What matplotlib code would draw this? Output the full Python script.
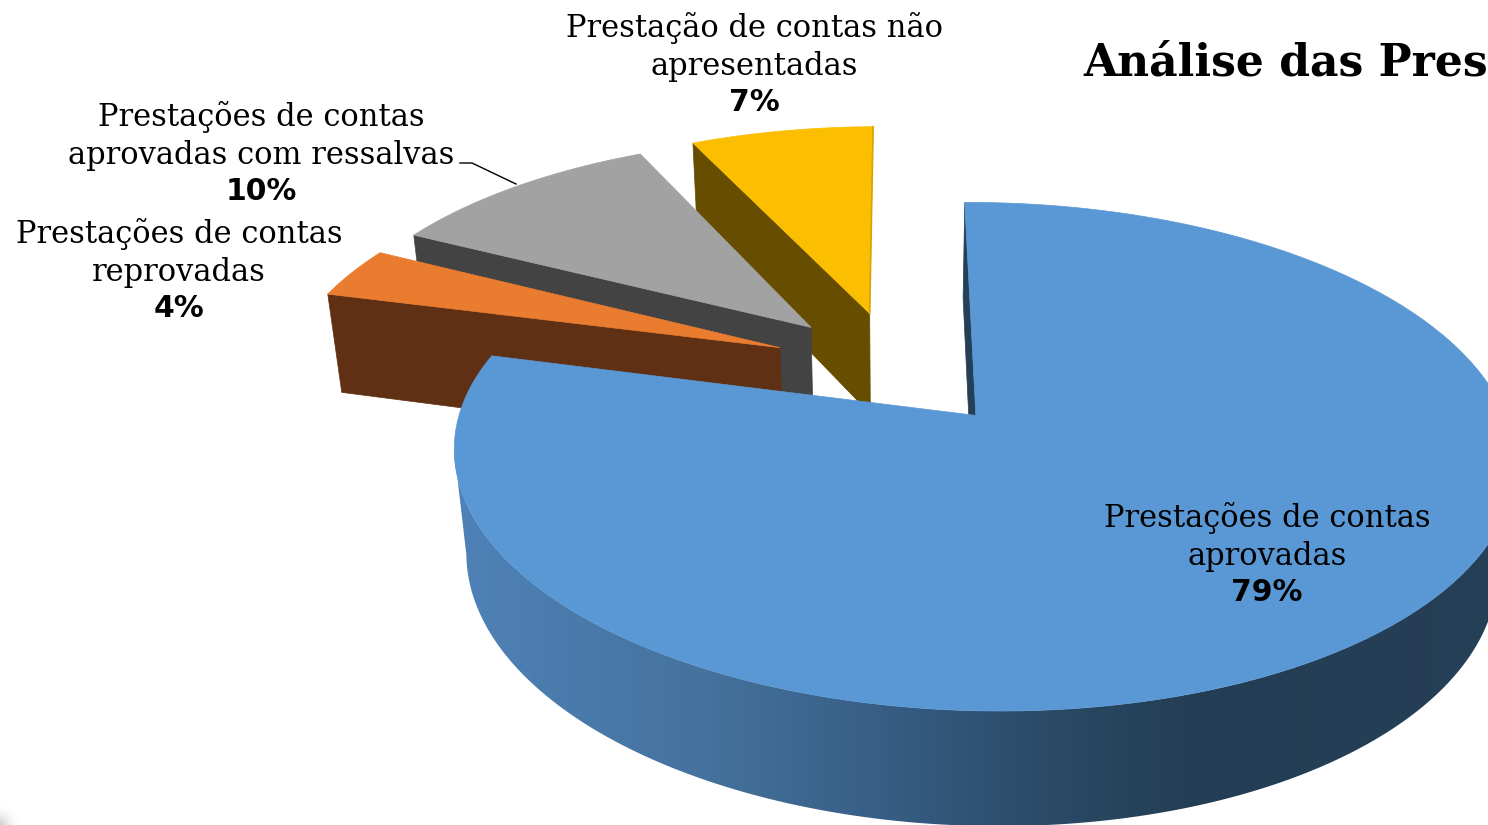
import numpy as np
import matplotlib
matplotlib.use('Agg')
import matplotlib.pyplot as plt
from matplotlib.patches import Polygon
from matplotlib.colors import LinearSegmentedColormap

# chart data, clockwise from 12 o'clock
categories = [['Prestações de contas', 'aprovadas'],
              ['Prestações de contas', 'reprovadas'],
              ['Prestações de contas', 'aprovadas com ressalvas'],
              ['Prestação de contas não', 'apresentadas']]
values = [79.04, 3.52, 10.49, 6.95]
percent_labels = ['79%', '4%', '10%', '7%']
title = 'Análise das Pres'

top_colors = ['#5A98D5', '#EA7C2F', '#A2A2A2', '#FBBE00']
wall_colors = ['#234057', '#5F3013', '#434343', '#664D00']

# centre x of each label and baseline of its first line
label_pos = [(1267, 527), (179, 243), (261, 126), (754, 37)]
line_step = 38

# projection of the pie plane, fitted by eye
BX, BY = 896, 368
RX, RY = 505, 232
PK, PM, PN = 0.157, -0.012, 0.027
DEPTH = 105.6
EXPLODE = 0.25

# shading of the big wall along screen x
shade_x = [450, 700, 900, 1050, 1200, 1530]
shade_rgb = [(0.31, 0.51, 0.72), (0.27, 0.45, 0.62), (0.21, 0.36, 0.51),
             (0.17, 0.29, 0.40), (0.137, 0.24, 0.33), (0.15, 0.25, 0.34)]


def project(u, v, z=0.0):
    w = 1 + PK * v + PM * u + PN * z
    return BX + RX * u / w, BY + (-RY * v + DEPTH * z) / w


def wedge_points(a0, a1, n=160):
    mid = (a0 + a1) / 2
    ax0, ay0 = EXPLODE * np.sin(mid), EXPLODE * np.cos(mid)
    th = np.linspace(a0, a1, n)
    return ax0, ay0, ax0 + np.sin(th), ay0 + np.cos(th)


def poly(ax, x, y, color, lw=0.5):
    ax.fill(x, y, facecolor=color, edgecolor=color, lw=lw)


fig = plt.figure(figsize=(14.88, 8.25), dpi=100)
ax = fig.add_axes([0, 0, 1, 1])

fracs = np.array(values) / sum(values)
edges = np.concatenate([[0], np.cumsum(fracs)]) * 2 * np.pi

# little grey smudge in the bottom left corner
gx, gy = np.meshgrid(np.linspace(0, 20, 40), np.linspace(800, 825, 50))
fade = np.clip(1 - np.hypot(gx, gy - 825) / 22, 0, 1)
smudge = np.zeros(fade.shape + (4,))
smudge[..., :3] = 0.6
smudge[..., 3] = fade ** 2 * 0.5
ax.imshow(smudge, extent=(0, 20, 825, 800), aspect='auto', interpolation='bilinear')

# back to front: yellow, grey, orange, then the big one
for i in [3, 2, 1, 0]:
    cu, cv, us, vs = wedge_points(edges[i], edges[i + 1])

    if i == 0:
        # start cut face, the thin sliver
        ax_, ay_ = project(np.array([cu, us[0]]), np.array([cv, vs[0]]))
        bx_, by_ = project(np.array([us[0], cu]), np.array([vs[0], cv]), 1.0)
        poly(ax, np.r_[ax_, bx_], np.r_[ay_, by_], wall_colors[0])

        # outer wall: gradient clipped to the rims between their outermost points
        t = np.linspace(edges[0], edges[1], 1200)
        wu, wv = cu + np.sin(t), cv + np.cos(t)
        tx, ty = project(wu, wv)
        lx, ly = project(wu, wv, 1.0)
        t0, t1 = np.argmax(tx), np.argmin(tx)
        l0, l1 = np.argmax(lx), np.argmin(lx)
        wall = Polygon(np.c_[np.r_[tx[t0:t1], lx[l0:l1][::-1]], np.r_[ty[t0:t1], ly[l0:l1][::-1]]],
                       closed=True, transform=ax.transData, facecolor='none', edgecolor='none')
        ax.add_patch(wall)
        stops = [(x - shade_x[0]) / (shade_x[-1] - shade_x[0]) for x in shade_x]
        cmap = LinearSegmentedColormap.from_list('wall', list(zip(stops, shade_rgb)))
        grad = np.linspace(0, 1, 512).reshape(1, -1)
        im = ax.imshow(grad, cmap=cmap, extent=(shade_x[0], shade_x[-1], 840, 300),
                       aspect='auto', interpolation='bilinear')
        im.set_clip_path(wall)
    else:
        # left cut face runs from the rim back to the apex
        ax_, ay_ = project(np.array([us[0], cu]), np.array([vs[0], cv]))
        bx_, by_ = project(np.array([cu, us[0]]), np.array([cv, vs[0]]), 1.0)
        poly(ax, np.r_[ax_, bx_], np.r_[ay_, by_], wall_colors[i])

    x, y = project(np.r_[cu, us], np.r_[cv, vs])
    poly(ax, x, y, top_colors[i])

    if i == 3:
        # darker edge on the right of the yellow slice
        ex, ey = project(np.array([cu, us[-1]]), np.array([cv, vs[-1]]))
        ax.plot(ex, ey, color='#D6A400', lw=1.2)

# leader line for the 10% label
ax.plot([460, 472, 516], [163, 163, 184], color='black', lw=1)

# labels
for pos, lines, pct in zip(label_pos, categories, percent_labels):
    y = pos[1]
    for line in lines:
        ax.text(pos[0], y, line, family='DejaVu Serif', fontsize=22, color='black',
                ha='center', va='baseline')
        y += line_step
    ax.text(pos[0], y - 2, pct, family='DejaVu Sans', fontweight='bold', fontsize=21.5,
            color='black', ha='center', va='baseline')

ax.text(1083, 76, title, family='DejaVu Serif', fontweight='bold', fontsize=31.7,
        color='black', ha='left', va='baseline')

ax.set_xlim(0, 1488)
ax.set_ylim(825, 0)
ax.axis('off')
fig.savefig('out.png', dpi=100)
